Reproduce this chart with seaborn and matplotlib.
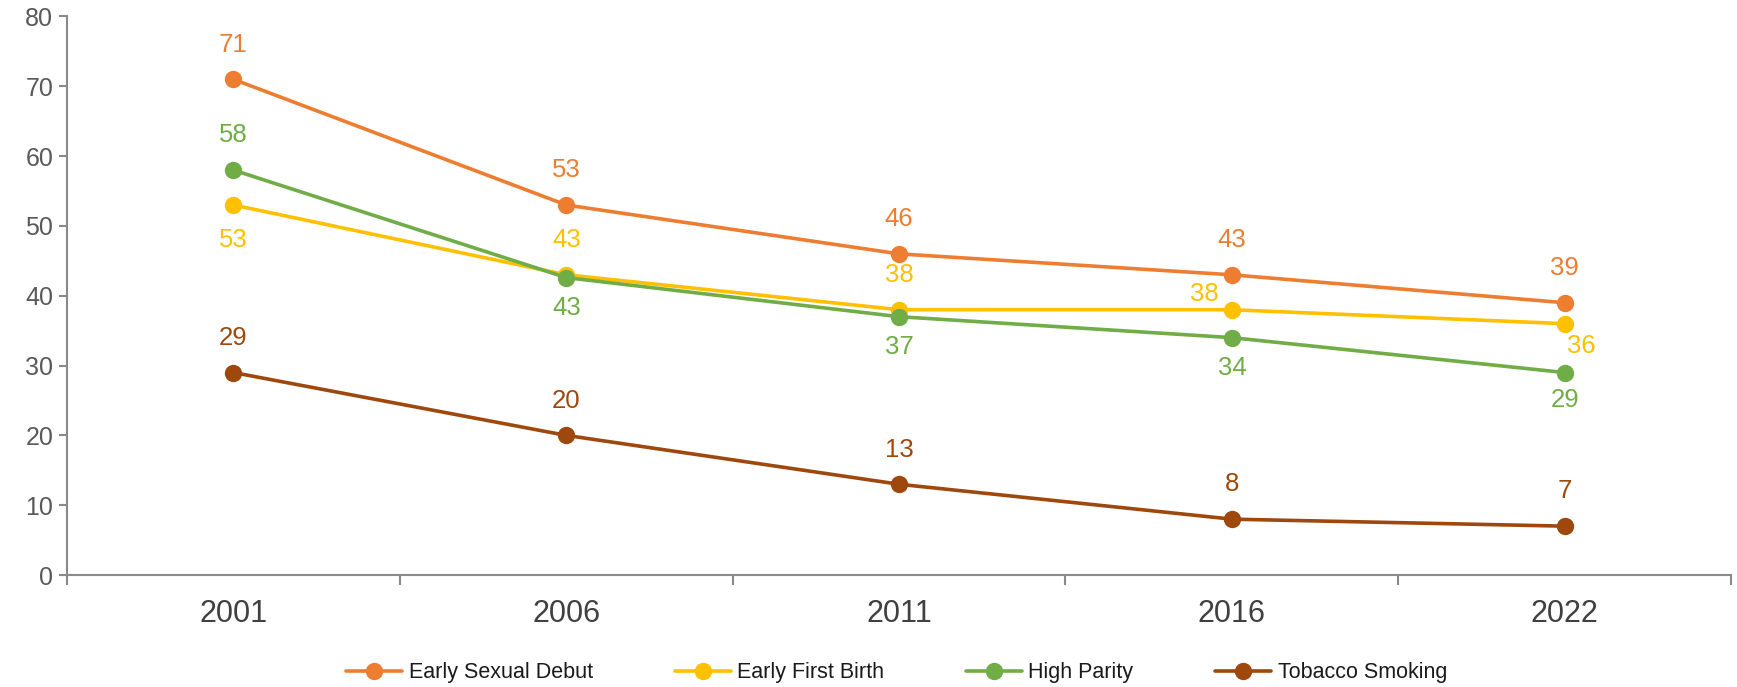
import matplotlib
matplotlib.use("Agg")
import matplotlib.pyplot as plt
import seaborn as sns
import pandas as pd
import numpy as np

years = ["2001", "2006", "2011", "2016", "2022"]
series_names = ["Early Sexual Debut", "Early First Birth", "High Parity", "Tobacco Smoking"]
early_sexual_debut = [71, 53, 46, 43, 39]
early_first_birth = [53, 43, 38, 38, 36]
high_parity = [58, 42.6, 37, 34, 29]
tobacco_smoking = [29, 20, 13, 8, 7]
colors = ["#ED7D31", "#FFC000", "#70AD47", "#9E480E"]

values = [early_sexual_debut, early_first_birth, high_parity, tobacco_smoking]
# label offsets in points (dx, dy)
UP = (0, 25)
DN = (0, -22)
label_pos = [
    [UP] * 5,
    [(0, -25), UP, UP, (-20, 11), (12, -16)],
    [UP, DN, DN, DN, (0, -20)],
    [UP] * 5,
]

rows = []
for name, vals in zip(series_names, values):
    for i, v in enumerate(vals):
        rows.append({"x": i, "value": v, "series": name})
df = pd.DataFrame(rows)

sns.set_theme(style="white")
plt.rcParams["font.family"] = ["Liberation Sans", "DejaVu Sans"]

fig = plt.figure(figsize=(17.37, 6.87), dpi=100)
ax = fig.add_axes([0.0386, 0.163, 0.958, 0.813])

sns.lineplot(data=df, x="x", y="value", hue="series", hue_order=series_names,
             palette=colors, marker="o", markersize=12.5, markeredgewidth=0,
             linewidth=2.6, ax=ax, legend=True)

for name, vals, col, pos in zip(series_names, values, colors, label_pos):
    for i, v in enumerate(vals):
        dx, dy = pos[i]
        ax.annotate(f"{v:.0f}", (i, v), xytext=(dx, dy), textcoords="offset points",
                    ha="center", va="center", color=col, fontsize=18.5)

ax.set_xlim(-0.5, 4.5)
ax.set_ylim(0, 80)
ax.set_yticks(range(0, 81, 10))
ax.set_xticks(range(5))
ax.set_xticklabels(years)
ax.set_xticks(np.arange(-0.5, 5, 1), minor=True)
ax.tick_params(axis="x", which="major", bottom=False, length=0, labelsize=22,
               labelcolor="#404040", pad=17)
ax.tick_params(axis="x", which="minor", bottom=True, length=7, width=1.5,
               color="#898989", direction="out")
ax.tick_params(axis="y", left=True, length=6, width=1.5, color="#898989", direction="out",
               labelsize=18, labelcolor="#595959", pad=4)
ax.set_xlabel("")
ax.set_ylabel("")
for side in ["top", "right"]:
    ax.spines[side].set_visible(False)
for side in ["left", "bottom"]:
    ax.spines[side].set_color("#898989")
    ax.spines[side].set_linewidth(1.5)
ax.grid(False)

handles, labels = ax.get_legend_handles_labels()
leg = ax.legend(handles, labels, loc="center", bbox_to_anchor=(0.4985, -0.175), ncol=4,
                frameon=False, fontsize=15.5, handlelength=2.6, columnspacing=3.8,
                handletextpad=0.3)
for t in leg.get_texts():
    t.set_color("#1a1a1a")

fig.savefig("out.png", dpi=100)
